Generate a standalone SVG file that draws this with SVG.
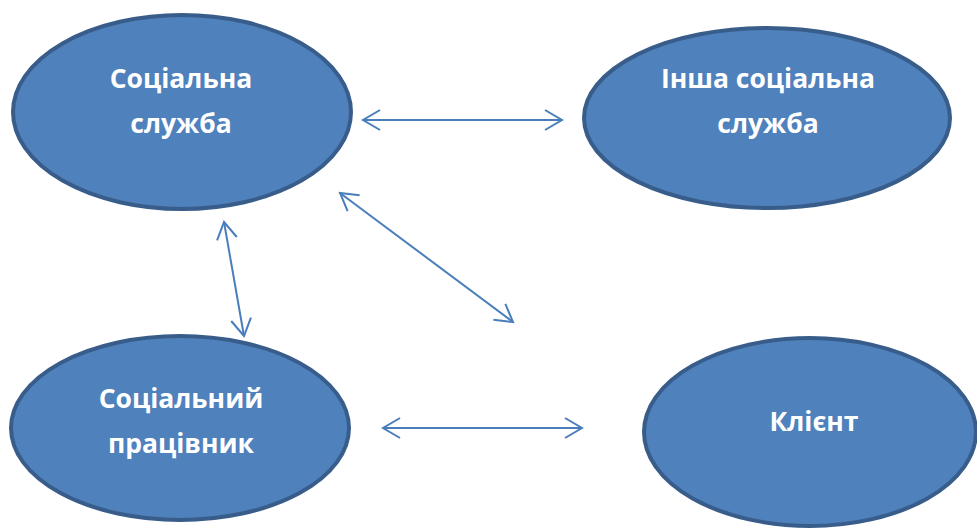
<svg xmlns="http://www.w3.org/2000/svg" width="977" height="529" viewBox="0 0 977 529">
<style>
.node ellipse{fill:#4F81BD;stroke:#385D8A;stroke-width:4}
.node text{font-family:"Open Sans","Liberation Sans",sans-serif;font-weight:bold;font-size:26.5px;fill:#FFFFFF;text-anchor:middle}
.conn line{stroke:#4A7EBB;stroke-width:2;fill:none}
</style>
<defs>
<marker id="ah" markerUnits="userSpaceOnUse" markerWidth="40" markerHeight="40" viewBox="-20 -20 40 40" refX="0" refY="0" orient="auto-start-reverse">
<path d="M-17,-10 L0,0 L-17,10" fill="none" stroke="#4A7EBB" stroke-width="2"/>
</marker>
</defs>
<rect width="977" height="529" fill="#FFFFFF"/>
<g id="n1" class="node">
<ellipse cx="182" cy="112" rx="169" ry="97"/>
<text x="181" y="88">Соціальна</text>
<text x="181" y="133">служба</text>
</g>
<g id="n2" class="node">
<ellipse cx="767" cy="118" rx="183" ry="90"/>
<text x="768" y="88">Інша соціальна</text>
<text x="768" y="133">служба</text>
</g>
<g id="n3" class="node">
<ellipse cx="180" cy="428" rx="169" ry="92"/>
<text x="181" y="408">Соціальний</text>
<text x="181" y="453">працівник</text>
</g>
<g id="n4" class="node">
<ellipse cx="810" cy="432" rx="166" ry="94"/>
<text x="814" y="431">Клієнт</text>
</g>
<g id="connectors" class="conn">
<line x1="363" y1="120" x2="562" y2="120" marker-start="url(#ah)" marker-end="url(#ah)"/>
<line x1="224" y1="222" x2="244" y2="336" marker-start="url(#ah)" marker-end="url(#ah)"/>
<line x1="340" y1="193" x2="513" y2="322" marker-start="url(#ah)" marker-end="url(#ah)"/>
<line x1="383" y1="428" x2="582" y2="428" marker-start="url(#ah)" marker-end="url(#ah)"/>
</g>
</svg>
